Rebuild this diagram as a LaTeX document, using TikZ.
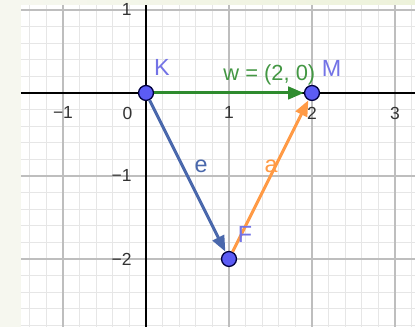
\documentclass[tikz,border=0pt]{standalone}
\usepackage{fontspec}
\setmainfont{Liberation Sans}
\usetikzlibrary{arrows.meta}
\definecolor{GGbg}{HTML}{F6F7EF}
\definecolor{GGtop}{HTML}{EDF2DA}
\definecolor{GGminor}{HTML}{E6E6E6}
\definecolor{GGmajor}{HTML}{BEBEBE}
\definecolor{GGpoint}{HTML}{5C5CF5}
\definecolor{GGlabel}{HTML}{7373E6}
\definecolor{GGgreen}{HTML}{2E8B2E}
\definecolor{GGblue}{HTML}{4A68AC}
\definecolor{GGorange}{HTML}{FF9A45}

\begin{document}
\begin{tikzpicture}[x=2cm,y=2cm,
  pt/.style={circle,draw=black!75!blue,fill=GGpoint,line width=0.9pt,
    minimum size=3.6mm,inner sep=0pt},
  ptlabel/.style={text=GGlabel,font=\fontsize{16}{18}\selectfont,inner sep=0pt},
  veclabel/.style={font=\fontsize{16}{18}\selectfont,inner sep=0pt},
  vec/.style={-{Triangle[length=3.8mm,width=3mm]},line width=2.1pt},
  tick/.style={font=\fontsize{12}{14}\selectfont,text=black!80,inner sep=0pt}]
\useasboundingbox (-1.759,-2.819) rectangle (3.241,1.120);
\fill[GGbg] (-1.759,-2.819) rectangle (3.241,1.120);
\shade[left color=GGbg,right color=GGtop] (-1.506,1.060) rectangle (3.241,1.120);
\fill[white] (-1.506,-2.819) rectangle (3.241,1.060);
% grid and axes
\draw[GGminor,line width=0.6pt,step=0.2] (-1.506,-2.819) grid (3.241,1.060);
\draw[GGmajor,line width=0.9pt,step=1] (-1.506,-2.819) grid (3.241,1.060);
\draw[line width=1pt] (-1.506,0) -- (3.241,0);
\draw[line width=1pt] (0,-2.819) -- (0,1.060);
\foreach \x/\t in {-1/−1,1/1,2/2,3/3}
  \node[tick,anchor=north] (xt\x) at (\x,-0.165) {\t};
\node[tick,anchor=north east] (xt0) at (-0.16,-0.165) {0};
\foreach \y/\t in {1/1,-1/−1,-2/−2}
  \node[tick,anchor=east] (yt\y) at (-0.17,\y) {\t};
% points and vectors
\node[pt] (K) at (0,0) {};
\node[pt] (M) at (2,0) {};
\node[pt] (F) at (1,-2) {};
\draw[vec,GGgreen] (K) -- (M);
\draw[vec,GGblue] (K) -- (F);
\draw[vec,GGorange] (F) -- (M);
\node[veclabel,text=GGgreen!90!white,anchor=west,font=\fontsize{15}{17}\selectfont]
  (wlab) at (0.93,0.217) {w = (2, 0)};
\node[veclabel,text=GGblue] (elab) at (0.663,-0.880) {e};
\node[veclabel,text=GGorange] (alab) at (1.506,-0.880) {a};
\node[ptlabel] (Klab) at (0.193,0.313) {K};
\node[ptlabel] (Mlab) at (2.235,0.301) {M};
\node[ptlabel] (Flab) at (1.193,-1.699) {F};
\end{tikzpicture}
\end{document}
